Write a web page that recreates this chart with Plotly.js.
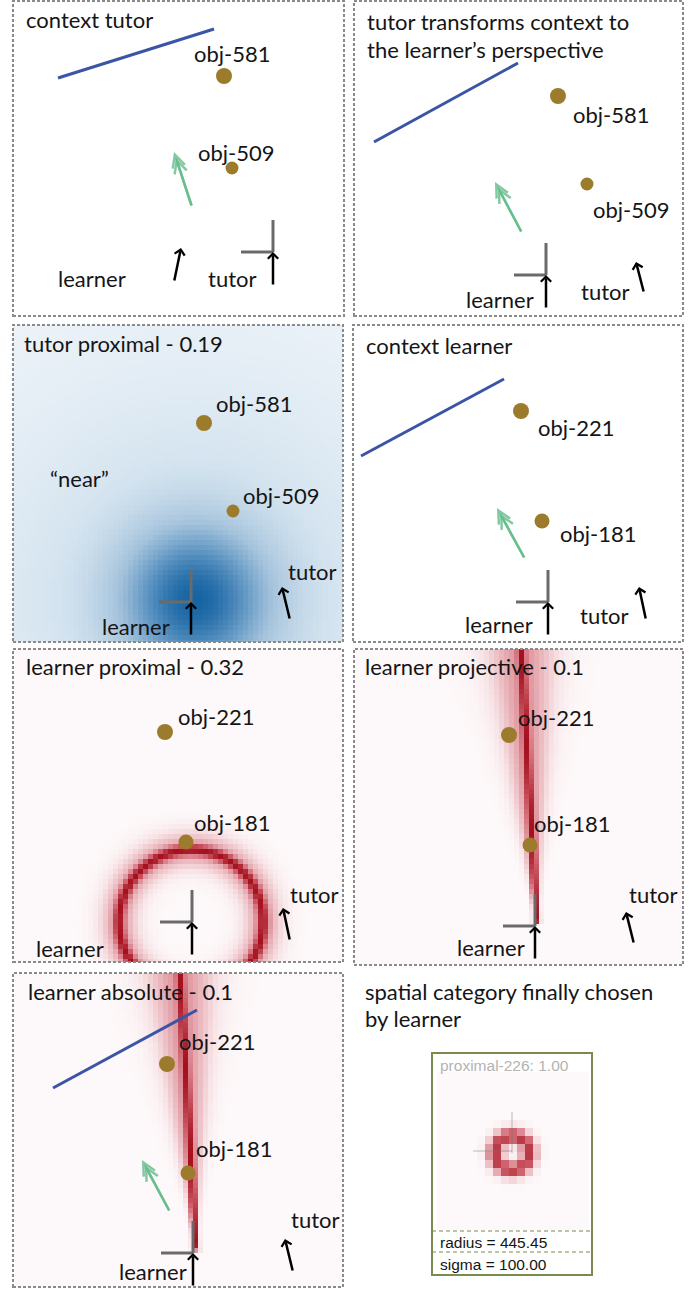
<!DOCTYPE html>
<html><head><meta charset="utf-8">
<script src="https://cdn.plot.ly/plotly-3.0.1.min.js"></script>
<style>html,body{margin:0;padding:0;background:#fff}#chart{width:699px;height:1289px}</style>
</head><body><div id="chart"></div>
<script>
// ================= DATA (scene coordinates, local to each panel) =================
const panelTitles = [
  ["context tutor"],
  ["tutor transforms context to", "the learner\u2019s perspective"],
  ["tutor proximal - 0.19"],
  ["context learner"],
  ["learner proximal - 0.32"],
  ["learner projective - 0.1"],
  ["learner absolute - 0.1"]
];
const objLabels = [
  ["obj-581","obj-509"],["obj-581","obj-509"],["obj-581","obj-509"],
  ["obj-221","obj-181"],["obj-221","obj-181"],["obj-221","obj-181"],["obj-221","obj-181"]
];
const objX = [[211,219],[204,233],[191,220],[168,189],[152,173],[155,176],[154,175]];
const objY = [[75,167],[95,183],[98,186],[86,196],[83,193],[86,196],[91,200]];
const landmarkPanels = [0,1,3,6];
const landmarkX = [[45,201],[20,164],[8,151],[40,184]];
const landmarkY = [[77,28],[141,62],[131,54],[115,37]];
const guidePanels = [0,1,3,6];
const guideTail = [[179,206],[168,232],[172,234],[157,239]];
const guideTip  = [[161,151],[141,181],[144,183],[129,187]];
const frameOrigin = [[260,251],[192,274],[178,277],[195,277],[179,273],[181,277],[180,280]];
const agentTail = [[161,281],[290,292],[277,295],[293,295],[277,292],[280,295],[280,299]];
const agentTip  = [[168,247],[282,261],[269,262],[286,262],[270,259],[272,263],[272,266]];
const nearCenter = [182,275], nearSigma = [50,150], nearWeight = [0.65,0.35];
const ringCenter = [178,273], ringRadius = 72, ringSigma = [4,14];
const projOrigin = [183,277], projTop = [167,0];
const absOrigin  = [183,278], absTop  = [167,0];
const beamSpread = [0.09, 2.8];   // angular sigma (rad), core sigma
const finalTitle = ["spatial category finally chosen", "by learner"];
const finalName = "proximal-226: 1.00";
const finalParams = ["radius = 445.45", "sigma = 100.00"];
const insetCenter = [75,81], insetRadius = 17, insetSigma = 6;

// ================= LAYOUT GEOMETRY =================
const W = 699, H = 1289;
const boxes = [[13,1,344,316],[354,1,683,316],[13,325,343,642],[353,325,683,642],[13,649,343,962],[354,649,683,965],[13,973,343,1287]];
const titlePos = [[11,18],[11,20],[9,19],[11,21],[11,18],[9,18],[13,18]];
const objLabelPos = [[[179,52],[183,151]],[[217,113],[237,208]],[[201,79],[228,171]],[[183,103],[205,208]],[[163,68],[179,174]],[[162,69],[178,175]],[[164,68],[181,175]]];
const learnerLabelPos = [[43,277],[110,298],[87,301],[110,299],[21,300],[101,299],[104,298]];
const tutorLabelPos = [[193,277],[225,290],[273,246],[225,290],[275,246],[273,246],[276,246]];
const insetBox = [432,1053,592,1275], insetHeat = [437,1072,589,1230];

const FONT = "Lato, Open Sans, sans-serif";
const textFont = {family: FONT, size: 22, color: "#151515"};
const sub = i => (i === 0 ? "" : String(i + 1));

const layout = {
  width: W, height: H, margin: {l:0,r:0,t:0,b:0}, showlegend: false,
  paper_bgcolor: "#fff", plot_bgcolor: "rgba(0,0,0,0)",
  annotations: [], shapes: []
};
const traces = [];

function addAxes(i, box) {
  const [L,T,R,B] = box;
  layout["xaxis" + sub(i)] = {domain:[L/W, R/W], range:[0, R-L], visible:false, fixedrange:true, anchor:"y"+sub(i)};
  layout["yaxis" + sub(i)] = {domain:[1-B/H, 1-T/H], range:[B-T, 0], visible:false, fixedrange:true, anchor:"x"+sub(i)};
}
boxes.forEach((b,i) => addAxes(i,b));
addAxes(7, insetHeat);

// ---------- fields ----------
function field(i, cell, fn, scale) {
  const [L,T,R,B] = i === 7 ? insetHeat : boxes[i];
  const w = R-L, h = B-T, xs = [], ys = [], z = [];
  for (let x = cell/2; x < w + cell/2; x += cell) xs.push(x);
  for (let y = cell/2; y < h + cell/2; y += cell) ys.push(y);
  ys.forEach(y => z.push(xs.map(x => fn(x,y))));
  traces.push({type:"heatmap", x:xs, y:ys, z:z, xaxis:"x"+sub(i), yaxis:"y"+sub(i),
    colorscale: scale, zmin:0, zmax:1, showscale:false, hoverinfo:"skip", zsmooth:false});
}
const blueScale = [[0,"#eff4f9"],[0.25,"#d3e3ef"],[0.5,"#a5c3dc"],[0.75,"#5b93c1"],[1,"#1764a3"]];
const redScale = [[0,"#fdf8f9"],[0.15,"#f7e3e6"],[0.4,"#e7adb4"],[0.7,"#cd5e6a"],[1,"#a5121f"]];

field(2, 5, (x,y) => { const d2=(x-nearCenter[0])**2+(y-nearCenter[1])**2;
  return nearWeight[0]*Math.exp(-d2/(2*nearSigma[0]**2)) + nearWeight[1]*Math.exp(-d2/(2*nearSigma[1]**2)); }, blueScale);
field(4, 5, (x,y) => { const d=Math.hypot(x-ringCenter[0], y-ringCenter[1]), e=(d-ringRadius)**2;
  return 0.55*Math.exp(-e/(2*ringSigma[0]**2)) + 0.45*Math.exp(-e/(2*ringSigma[1]**2)); }, redScale);
function beam(o, t) {
  const dx=t[0]-o[0], dy=t[1]-o[1], n=Math.hypot(dx,dy), ux=dx/n, uy=dy/n;
  return (x,y) => {
    const vx=x-o[0], vy=y-o[1], along=vx*ux+vy*uy;
    if (along <= 0) return 0;
    const perp=Math.abs(vx*uy-vy*ux), ang=Math.atan2(perp, along);
    return Math.min(1, 0.5*Math.exp(-ang*ang/(2*beamSpread[0]**2)) + 0.5*Math.exp(-perp*perp/(2*beamSpread[1]**2)));
  };
}
field(5, 5, beam(projOrigin, projTop), redScale);
field(6, 5, beam(absOrigin, absTop), redScale);
field(7, 8, (x,y) => { const d=Math.hypot(x-insetCenter[0], y-insetCenter[1]); return 0.85*Math.exp(-((d-insetRadius)**2)/(2*insetSigma**2)); }, redScale);

// ---------- landmarks ----------
landmarkPanels.forEach((p,k) => {
  traces.push({type:"scatter", mode:"lines", x:landmarkX[k], y:landmarkY[k], xaxis:"x"+sub(p), yaxis:"y"+sub(p),
    line:{color:"#3b54a6", width:3}, hoverinfo:"skip"});
});
// ---------- objects ----------
objX.forEach((xs,p) => {
  traces.push({type:"scatter", mode:"markers", x:xs, y:objY[p], xaxis:"x"+sub(p), yaxis:"y"+sub(p),
    marker:{color:"#9c7c2c", opacity:1, size: p >= 3 ? [16,15] : [16,13], line:{width:0}}, hoverinfo:"skip"});
  objLabels[p].forEach((lab,k) => {
    layout.annotations.push({x:objLabelPos[p][k][0], y:objLabelPos[p][k][1], xref:"x"+sub(p), yref:"y"+sub(p),
      text:lab, showarrow:false, xanchor:"left", yanchor:"middle", font:textFont});
  });
});

// ---------- panels: borders, titles, frames, agents ----------
boxes.forEach((b,p) => {
  const xr = "x"+sub(p), yr = "y"+sub(p);
  layout.shapes.push({type:"rect", xref:xr+" domain", yref:yr+" domain", x0:0, x1:1, y0:0, y1:1,
    line:{color:"#8a8a8a", width:2, dash:"3px,2px"}, fillcolor:"rgba(0,0,0,0)"});
  panelTitles[p].forEach((t,k) => {
    layout.annotations.push({x:titlePos[p][0], y:titlePos[p][1] + 28*k, xref:xr, yref:yr, text:t,
      showarrow:false, xanchor:"left", yanchor:"middle", font:textFont});
  });
  const [fx,fy] = frameOrigin[p];
  layout.shapes.push({type:"line", xref:xr, yref:yr, x0:fx, y0:fy, x1:fx, y1:fy-32, line:{color:"#6a6a6a", width:3}});
  layout.shapes.push({type:"line", xref:xr, yref:yr, x0:fx, y0:fy, x1:fx-32, y1:fy, line:{color:"#6a6a6a", width:3}});
  const arrow = (tail, tip, color, width, head, size) => ({x:tip[0], y:tip[1], ax:tail[0], ay:tail[1], xref:xr, yref:yr, axref:xr, ayref:yr,
    text:"", showarrow:true, arrowhead:head, arrowsize:size, arrowwidth:width, arrowcolor:color, standoff:0, startstandoff:0});
  layout.annotations.push(arrow([fx, fy+34], [fx, fy], "#000", 2.5, 4, 0.8));
  layout.annotations.push(arrow(agentTail[p], agentTip[p], "#000", 2.5, 4, 0.8));
  layout.annotations.push({x:learnerLabelPos[p][0], y:learnerLabelPos[p][1], xref:xr, yref:yr, text:"learner",
    showarrow:false, xanchor:"left", yanchor:"middle", font:textFont});
  layout.annotations.push({x:tutorLabelPos[p][0], y:tutorLabelPos[p][1], xref:xr, yref:yr, text:"tutor",
    showarrow:false, xanchor:"left", yanchor:"middle", font:textFont});
  const g = guidePanels.indexOf(p);
  if (g >= 0) {
    const tl = guideTail[g], tp = guideTip[g];
    const len = Math.hypot(tp[0]-tl[0], tp[1]-tl[1]);
    const back = [tp[0] - (tp[0]-tl[0])*6/len, tp[1] - (tp[1]-tl[1])*6/len];
    layout.annotations.push(arrow(tl, tp, "rgba(100,188,138,0.8)", 2.5, 5, 1));
    layout.annotations.push(arrow(tl, back, "rgba(100,188,138,0.8)", 2.5, 5, 1));
  }
  if (p === 2) {
    layout.annotations.push({x:35, y:154, xref:xr, yref:yr, text:"\u201cnear\u201d", showarrow:false,
      xanchor:"left", yanchor:"middle", font:textFont});
  }
});

// ---------- final panel ----------
finalTitle.forEach((t,k) => {
  layout.annotations.push({x:363/W, y:1-(991+27*k)/H, xref:"paper", yref:"paper", text:t, showarrow:false,
    xanchor:"left", yanchor:"middle", font:textFont});
});
layout.shapes.push({type:"rect", xref:"paper", yref:"paper", x0:insetBox[0]/W, x1:insetBox[2]/W, y0:1-insetBox[3]/H, y1:1-insetBox[1]/H,
  line:{color:"#7b8a4e", width:2}, fillcolor:"rgba(0,0,0,0)"});
[1231,1252].forEach(yy => layout.shapes.push({type:"line", xref:"paper", yref:"paper", x0:insetBox[0]/W, x1:insetBox[2]/W,
  y0:1-yy/H, y1:1-yy/H, line:{color:"#7b8a4e", width:1.2, dash:"4px,3px"}}));
layout.shapes.push({type:"line", xref:"x8", yref:"y8", x0:insetCenter[0], x1:insetCenter[0], y0:insetCenter[1]-41, y1:insetCenter[1], line:{color:"rgba(120,120,120,0.5)", width:1}});
layout.shapes.push({type:"line", xref:"x8", yref:"y8", x0:insetCenter[0]-39, x1:insetCenter[0], y0:insetCenter[1]-2, y1:insetCenter[1]-2, line:{color:"rgba(120,120,120,0.5)", width:1}});
const smallFont = {family:"Liberation Sans, Arial, sans-serif", size:15.5, color:"#151515"};
layout.annotations.push({x:438/W, y:1-1065/H, xref:"paper", yref:"paper", text:finalName, showarrow:false,
  xanchor:"left", yanchor:"middle", font:{family:smallFont.family, size:15.5, color:"#b3b3b3"}});
finalParams.forEach((t,k) => {
  layout.annotations.push({x:438/W, y:1-(1242+22*k)/H, xref:"paper", yref:"paper", text:t, showarrow:false,
    xanchor:"left", yanchor:"middle", font:smallFont});
});

Plotly.newPlot("chart", traces, layout, {staticPlot:true, displayModeBar:false});
</script></body></html>
